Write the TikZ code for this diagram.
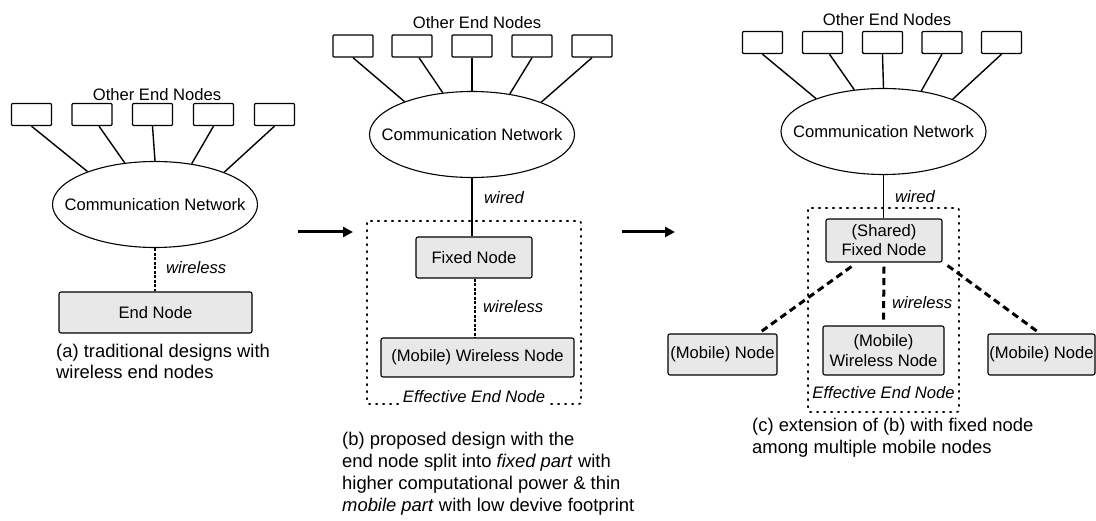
\documentclass[tikz,border=0pt]{standalone}
\usepackage{fontspec}
\setmainfont{Liberation Sans}
\usetikzlibrary{arrows.meta,shapes.geometric,calc}
\definecolor{nodefill}{RGB}{232,232,232}
\tikzset{
  nfont/.style={font=\fontsize{16.6}{19.5}\selectfont},
  cfont/.style={font=\fontsize{18.4}{21.5}\selectfont},
  ebox/.style={draw, line width=1.4pt, minimum width=40, minimum height=22, inner sep=0, rounded corners=1pt},
  netw/.style={draw, ellipse, line width=1.1pt, minimum width=205, minimum height=86, inner sep=0},
  gbox/.style={draw, line width=1.1pt, fill=nodefill, rounded corners=2pt, inner sep=1pt, nfont, align=center},
  conn/.style={line width=1.4pt},
  wirel/.style={line width=1.6pt, dash pattern=on 3pt off 1.5pt},
  wirelthick/.style={line width=3pt, dash pattern=on 7pt off 4.5pt},
  effbox/.style={line width=1.7pt, dash pattern=on 1.4pt off 5.6pt, line cap=round, rounded corners=2pt},
  lbl/.style={nfont, inner sep=0},
  ilbl/.style={nfont, inner sep=0, font=\fontsize{16.6}{19.5}\selectfont\itshape},
  captxt/.style={cfont, inner sep=0, align=left, anchor=west},
  bigarrow/.style={line width=3pt, -{Triangle[length=10pt,width=10pt]}}
}
\begin{document}
\begin{tikzpicture}[x=1pt,y=-1pt]
\useasboundingbox (0,0) rectangle (1096,521);

% ---------------- panel (a) ----------------
\node[lbl] (aother) at (157,95) {Other End Nodes};
\foreach \i/\x in {1/31.5,2/92,3/152.5,4/213.5,5/274.5}
  \node[ebox] (a\i) at (\x,114.5) {};
\node[netw, label={[nfont]center:Communication Network}] (an) at (155,204.5) {};
\foreach \i/\dx/\ang in {1/0/154,2/7/126,3/0/90,4/0/48,5/0/25}
  \draw[conn] ([xshift=\dx pt]a\i.south) -- (an.\ang);
\node[gbox, minimum width=193, minimum height=41] (aend) at (155.5,312.5) {End Node};
\draw[wirel] (an.south) -- (an.south |- aend.north);
\node[ilbl, anchor=west] (awl) at (166,268) {wireless};
\node[captxt] (acap) at (56,361.5) {(a) traditional designs with\\wireless end nodes};

\coordinate (ar1s) at (298,232);
\coordinate (ar1e) at (353,232);
\draw[bigarrow] (ar1s) -- (ar1e);

% ---------------- panel (b) ----------------
\node[lbl] (bother) at (477,23) {Other End Nodes};
\foreach \i/\x in {1/353,2/412,3/472,4/532,5/592}
  \node[ebox] (b\i) at (\x,46) {};
\node[netw, label={[nfont]center:Communication Network}] (bn) at (472,134.5) {};
\foreach \i/\dx/\ang in {1/0/154,2/7/125,3/0/90,4/0/47,5/0/25}
  \draw[conn] ([xshift=\dx pt]b\i.south) -- (bn.\ang);
\draw[effbox] (367,221) rectangle (581,404);
\node[gbox, minimum width=116, minimum height=41] (bfix) at (474,257.5) {Fixed Node};
\draw[conn] (bn.south) -- (bn.south |- bfix.north);
\node[ilbl, anchor=west] (bwired) at (484,198) {wired};
\node[gbox, minimum width=193, minimum height=39] (bmob) at (477.5,357.5) {(Mobile) Wireless Node};
\draw[wirel] ([xshift=1pt]bfix.south) -- ([xshift=1pt]bfix.south |- bmob.north);
\node[ilbl, anchor=west] (bwl) at (483,307) {wireless};
\node[ilbl, fill=white, inner sep=1.5pt] (beff) at (474,397) {Effective End Node};
\node[captxt, font=\fontsize{18.4}{22}\selectfont] (bcap) at (342,474) {(b) proposed design with the\\end node split into \textit{fixed part} with\\higher computational power \& thin\\\textit{mobile part} with low devive footprint};

\coordinate (ar2s) at (622,232);
\coordinate (ar2e) at (675,232);
\draw[bigarrow] (ar2s) -- (ar2e);

% ---------------- panel (c) ----------------
\node[lbl] (cother) at (887,20) {Other End Nodes};
\foreach \i/\x in {1/762.5,2/822.5,3/882.5,4/942,5/1001.5}
  \node[ebox] (c\i) at (\x,42.5) {};
\node[netw, label={[nfont]center:Communication Network}] (cn) at (883.5,131.5) {};
\foreach \i/\dx/\ang in {1/0/154,2/7/125,3/0/90,4/0/47,5/0/25}
  \draw[conn] ([xshift=\dx pt]c\i.south) -- (cn.\ang);
\draw[effbox] (808,208) rectangle (959,412);
\node[gbox, minimum width=116, minimum height=43, font=\fontsize{16.6}{19}\selectfont] (cfix) at (884,240.5) {(Shared)\\Fixed Node};
\draw[conn] (cn.south) -- (cn.south |- cfix.north);
\node[ilbl, anchor=west] (cwired) at (895,197) {wired};
\node[gbox, minimum width=121, minimum height=49, font=\fontsize{16.6}{20}\selectfont] (cmob) at (883.5,350.5) {(Mobile)\\Wireless Node};
\node[gbox, minimum width=109, minimum height=41] (lmob) at (722.5,354.5) {(Mobile) Node};
\node[gbox, minimum width=107, minimum height=41] (rmob) at (1041.5,354.5) {(Mobile) Node};
\draw[wirelthick] ($(cfix.south west)+(26,4)$) -- ($(lmob.north east)+(-19,0)$);
\draw[wirelthick] ([yshift=-4pt]cfix.south) -- ([yshift=4pt]cmob.north);
\draw[wirelthick] ($(cfix.south east)+(5,3)$) -- ($(rmob.north)+(-1.5,0)$);
\node[ilbl, anchor=west] (cwl) at (892,303) {wireless};
\node[ilbl] (ceff) at (883.5,393) {Effective End Node};
\node[captxt] (ccap) at (752,437.5) {(c) extension of (b) with fixed node\\among multiple mobile nodes};
\end{tikzpicture}
\end{document}
